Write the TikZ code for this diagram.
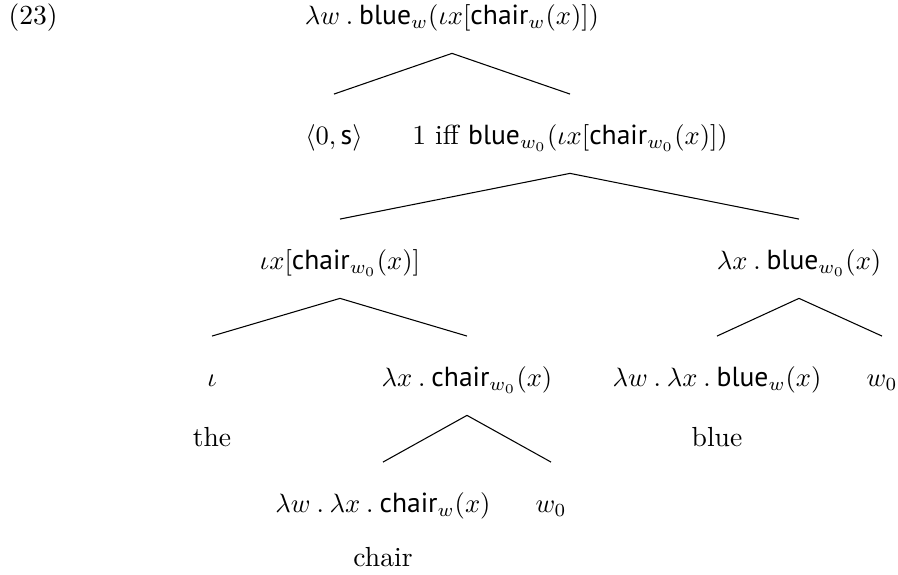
\documentclass[tikz,border=0pt]{standalone}
\usepackage{amsmath}
\usepackage{fontspec}
\usepackage{tikz}
\newfontfamily\predfont{PT Sans}
\newcommand{\pred}[1]{\text{\predfont #1}}
\newcommand{\lam}[1]{\lambda #1\mathbin{.}}

\begin{document}
\begin{tikzpicture}[x=0.377pt,y=-0.377pt,%
font=\fontsize{10.4pt}{12.5pt}\selectfont,
% common options for the tree labels:
sem/.style = {anchor=base, inner sep=0, text height=19pt, text depth=10.5pt},
% common options for the words under the leaves:
word/.style = {anchor=base, inner sep=0}]
\useasboundingbox (0,0) rectangle (898,575);
\node[anchor=base west,inner sep=0] (EX) at (8,25) {(23)};
\node[sem] (A0) at (452,25) {$\lam{w}\pred{blue}_w(\iota x[\pred{chair}_w(x)])$};
\node[sem] (B1) at (334,145) {$\langle 0,\pred{s}\rangle$};
\node[sem] (B2) at (570,145) {1 iff $\pred{blue}_{w_0}(\iota x[\pred{chair}_{w_0}(x)])$};
\node[sem] (C1) at (340,270) {$\iota x[\pred{chair}_{w_0}(x)]$};
\node[sem] (C2) at (799,270) {$\lam{x}\pred{blue}_{w_0}(x)$};
\node[sem] (D1) at (212,387) {$\iota$};
\node[sem] (D2) at (467,387) {$\lam{x}\pred{chair}_{w_0}(x)$};
\node[sem] (D3) at (717,387) {$\lam{w}\lam{x}\pred{blue}_w(x)$};
\node[sem] (D4) at (882,387) {$w_0$};
\node[sem] (E1) at (383,513) {$\lam{w}\lam{x}\pred{chair}_w(x)$};
\node[sem] (E2) at (551,513) {$w_0$};
\node[word] (W1) at (212,447) {the};
\node[word] (W2) at (717,447) {blue};
\node[word] (W3) at (383,567) {chair};
\draw[-] (A0.south) to (B1.north);
\draw[-] (A0.south) to (B2.north);
\draw[-] (B2.south) to (C1.north);
\draw[-] (B2.south) to (C2.north);
\draw[-] (C1.south) to (D1.north);
\draw[-] (C1.south) to (D2.north);
\draw[-] (C2.south) to (D3.north);
\draw[-] (C2.south) to (D4.north);
\draw[-] (D2.south) to (E1.north);
\draw[-] (D2.south) to (E2.north);
\end{tikzpicture}
\end{document}
